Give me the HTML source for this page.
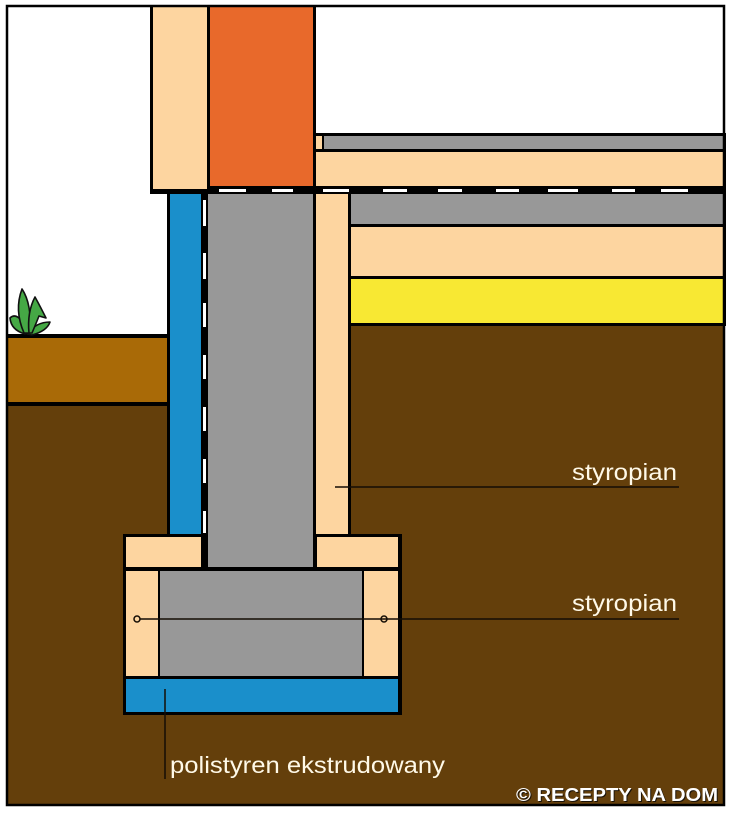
<!DOCTYPE html>
<html>
<head>
<meta charset="utf-8">
<style>
  html, body { margin: 0; padding: 0; background: #ffffff; }
  svg { display: block; }
</style>
</head>
<body>
<svg width="730" height="813" viewBox="0 0 730 813" xmlns="http://www.w3.org/2000/svg">
  <!-- background -->
  <rect x="0" y="0" width="730" height="813" fill="#ffffff"/>

  <!-- dark brown ground -->
  <rect x="7" y="404" width="717" height="401" fill="#643F0B"/>
  <rect x="348" y="326" width="376" height="479" fill="#643F0B"/>

  <!-- topsoil -->
  <rect x="7" y="334" width="163" height="72" fill="#000"/>
  <rect x="7" y="338" width="160" height="64" fill="#A96A07"/>

  <!-- plant -->
  <g fill="#45A845" stroke="#111" stroke-width="1.6" stroke-linejoin="round">
    <path d="M25,334 Q11,330 10,318 Q14,314 19,318 Q25,324 28,332 Z"/>
    <path d="M27,334 Q36,322 50,322 Q47,331 32,335 Z"/>
    <path d="M24,333 Q14,310 22,289 Q32,304 30,333 Z"/>
    <path d="M29,333 Q27,312 35,297 Q40,306 46,318 L39,316 Q35,326 32,333 Z"/>
  </g>

  <!-- top wall: peach + orange -->
  <rect x="150" y="5" width="166" height="189" fill="#000"/>
  <rect x="153" y="7" width="54" height="182" fill="#FDD5A0"/>
  <rect x="210" y="7" width="103" height="179" fill="#E8692B"/>

  <!-- floor layers above the band -->
  <rect x="313" y="133" width="413" height="61" fill="#000"/>
  <rect x="316" y="136" width="6" height="13" fill="#FDD5A0"/>
  <rect x="324" y="136" width="399" height="13" fill="#989898"/>
  <rect x="316" y="152" width="407" height="34" fill="#FDD5A0"/>

  <!-- band white dashes -->
  <g fill="#ffffff">
    <rect x="219" y="189" width="27" height="3"/>
    <rect x="272" y="189" width="21" height="3"/>
    <rect x="323" y="189" width="26" height="3"/>
    <rect x="383" y="189" width="24" height="3"/>
    <rect x="438" y="189" width="24" height="3"/>
    <rect x="496" y="189" width="23" height="3"/>
    <rect x="548" y="189" width="30" height="3"/>
    <rect x="612" y="189" width="23" height="3"/>
    <rect x="661" y="189" width="27" height="3"/>
  </g>

  <!-- foundation wall below band -->
  <rect x="167" y="194" width="184" height="340" fill="#000"/>
  <rect x="170" y="194" width="31" height="340" fill="#1A8FCB"/>
  <rect x="208" y="194" width="105" height="373" fill="#989898"/>
  <rect x="316" y="194" width="32" height="340" fill="#FDD5A0"/>

  <!-- right floor layers -->
  <rect x="348" y="194" width="378" height="132" fill="#000"/>
  <rect x="351" y="194" width="372" height="30" fill="#989898"/>
  <rect x="351" y="227" width="372" height="49" fill="#FDD5A0"/>
  <rect x="351" y="279" width="372" height="44" fill="#F8E833"/>

  <!-- footing -->
  <rect x="123" y="534" width="279" height="181" fill="#000"/>
  <rect x="126" y="537" width="75" height="30" fill="#FDD5A0"/>
  <rect x="317" y="537" width="81" height="30" fill="#FDD5A0"/>
  <rect x="208" y="530" width="105" height="37" fill="#989898"/>
  <rect x="126" y="571" width="32" height="105" fill="#FDD5A0"/>
  <rect x="160" y="571" width="202" height="105" fill="#989898"/>
  <rect x="364" y="571" width="34" height="105" fill="#FDD5A0"/>
  <rect x="126" y="679" width="272" height="33" fill="#1A8FCB"/>

  <!-- vertical white dashes -->
  <g fill="#ffffff">
    <rect x="203" y="200" width="3" height="26"/>
    <rect x="203" y="253" width="3" height="26"/>
    <rect x="203" y="303" width="3" height="24"/>
    <rect x="203" y="355" width="3" height="24"/>
    <rect x="203" y="407" width="3" height="24"/>
    <rect x="203" y="459" width="3" height="24"/>
    <rect x="203" y="511" width="3" height="22"/>
  </g>

  <!-- frame -->
  <rect x="7" y="6" width="717" height="799" fill="none" stroke="#000" stroke-width="2.5"/>

  <!-- label lines -->
  <g stroke="#140d04" stroke-width="1.5" fill="none">
    <line x1="335" y1="487" x2="679" y2="487"/>
    <line x1="140" y1="619" x2="679" y2="619"/>
    <circle cx="137" cy="619" r="3"/>
    <circle cx="384" cy="619" r="3"/>
    <line x1="165" y1="689" x2="165" y2="779"/>
  </g>

  <!-- labels -->
  <g font-family="Liberation Sans, Arial, sans-serif" font-size="23" fill="#FFF9E8">
    <text x="572" y="480" textLength="105" lengthAdjust="spacingAndGlyphs">styropian</text>
    <text x="572" y="611" textLength="105" lengthAdjust="spacingAndGlyphs">styropian</text>
    <text x="170" y="773" textLength="275" lengthAdjust="spacingAndGlyphs">polistyren ekstrudowany</text>
  </g>

  <!-- watermark -->
  <g font-family="Liberation Sans, Arial, sans-serif" font-size="18" font-weight="bold">
    <text x="517" y="802" textLength="202" lengthAdjust="spacingAndGlyphs" fill="#1a1208">© RECEPTY NA DOM</text>
    <text x="516" y="801" textLength="202" lengthAdjust="spacingAndGlyphs" fill="#ffffff">© RECEPTY NA DOM</text>
  </g>
</svg>
</body>
</html>
